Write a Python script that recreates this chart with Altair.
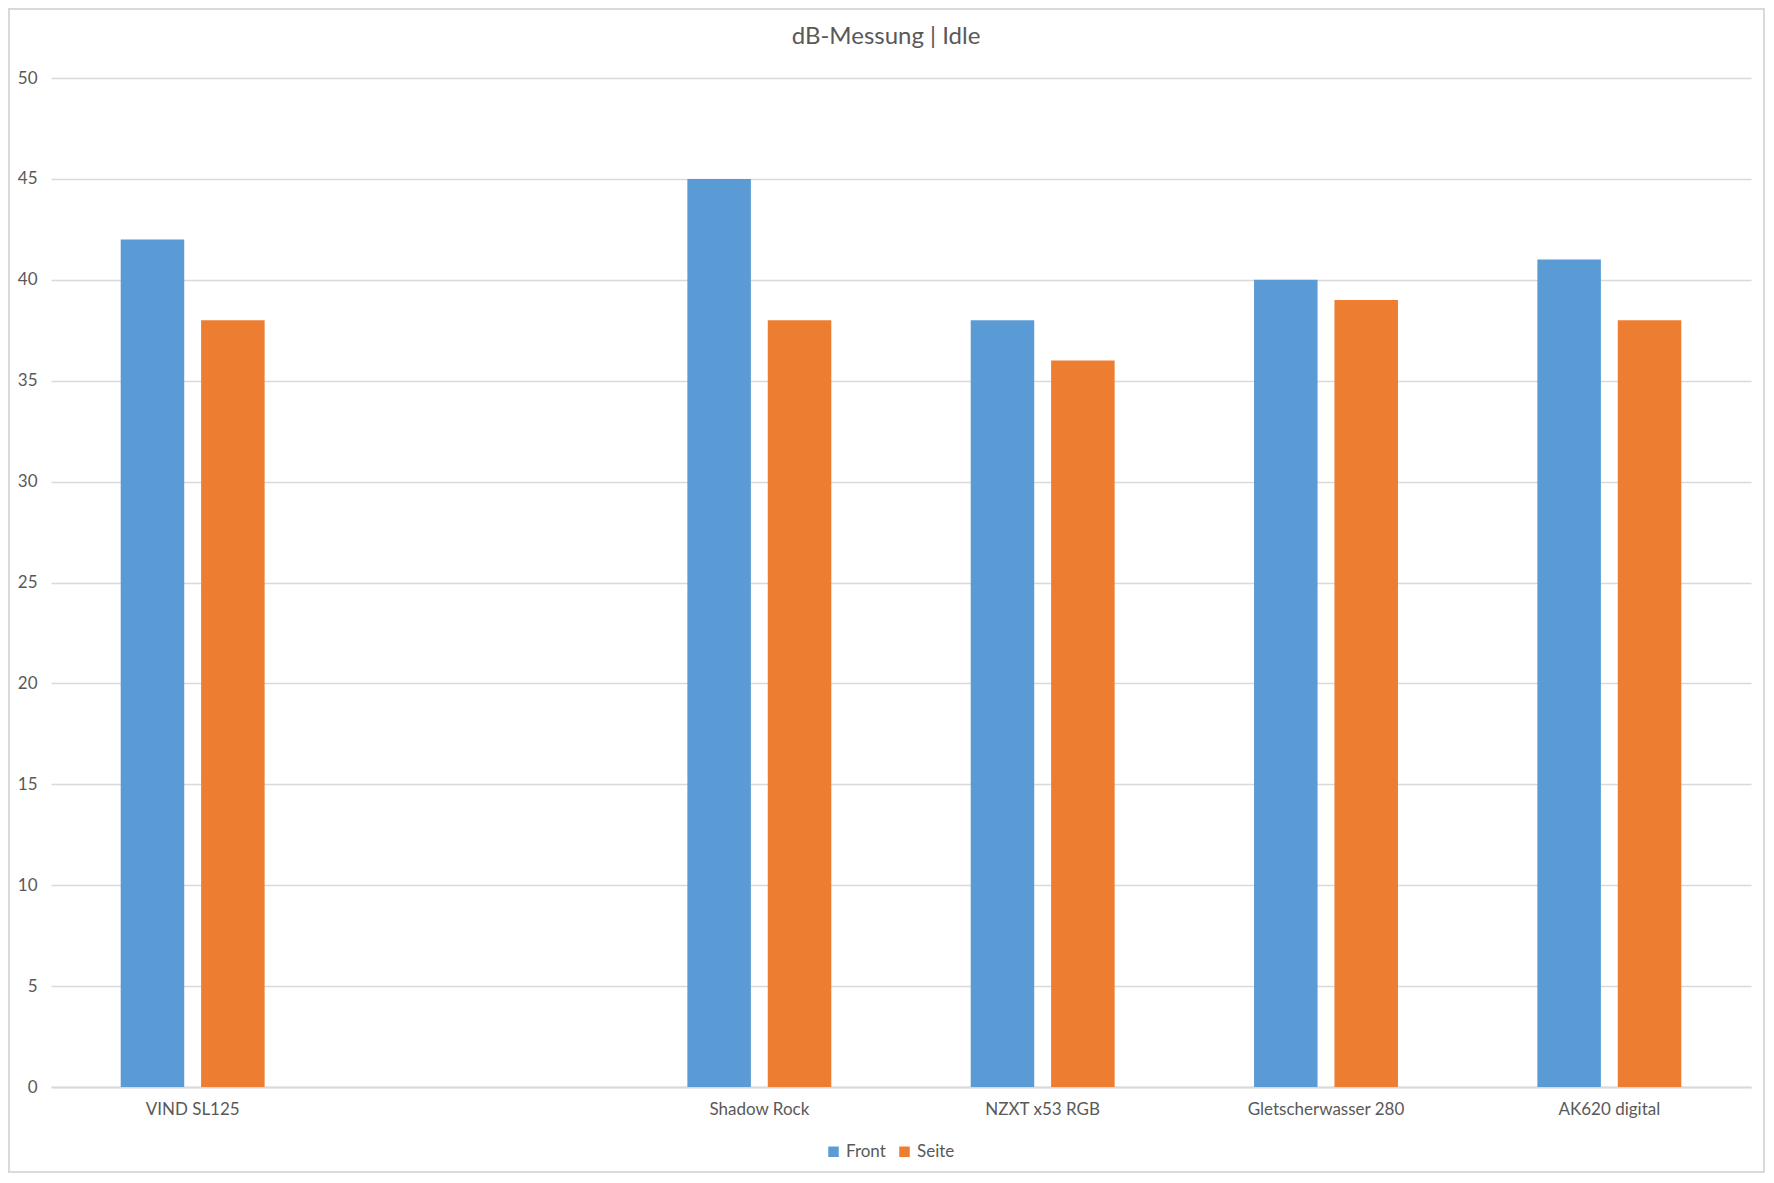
import altair as alt
import pandas as pd

categories = ["VIND SL125", " ", "Shadow Rock", "NZXT x53 RGB", "Gletscherwasser 280", "AK620 digital"]
front = {"VIND SL125": 42, "Shadow Rock": 45, "NZXT x53 RGB": 38, "Gletscherwasser 280": 40, "AK620 digital": 41}
seite = {"VIND SL125": 38, "Shadow Rock": 38, "NZXT x53 RGB": 36, "Gletscherwasser 280": 39, "AK620 digital": 38}
series = ["Front", "Seite"]
colors = ["#5B9BD5", "#ED7D31"]
y_ticks = list(range(0, 51, 5))

rows = []
for c in categories:
    if c in front:
        rows.append({"cat": c, "series": "Front", "value": front[c]})
        rows.append({"cat": c, "series": "Seite", "value": seite[c]})
df = pd.DataFrame(rows)

W, H = 1700, 1009
FONT = "Lato"
TXT = "#595959"
GRID = "#D9D9D9"

bars = alt.Chart(df).mark_bar().encode(
    x=alt.X("cat:N", sort=categories,
            scale=alt.Scale(domain=categories, paddingInner=0.492, paddingOuter=0.246),
            axis=alt.Axis(title=None, labelAngle=0, ticks=False, domainColor=GRID, domainWidth=2,
                          labelFont=FONT, labelFontSize=17, labelColor=TXT, labelPadding=14)),
    xOffset=alt.XOffset("series:N", sort=series,
                        scale=alt.Scale(paddingInner=0.21, paddingOuter=0)),
    y=alt.Y("value:Q", scale=alt.Scale(domain=[0, 50], nice=False),
            axis=alt.Axis(title=None, values=y_ticks, domain=False, ticks=False, gridColor=GRID,
                          gridWidth=1.5, labelFont=FONT, labelFontSize=17, labelColor=TXT,
                          labelPadding=14)),
    color=alt.Color("series:N", sort=series, scale=alt.Scale(domain=series, range=colors),
                    legend=alt.Legend(title=None, orient="none", legendX=774, legendY=1065,
                                      direction="horizontal",
                                      symbolType="square", symbolSize=110, symbolStrokeWidth=0,
                                      labelFont=FONT, labelFontSize=17, labelColor=TXT,
                                      columnPadding=10, labelOffset=4)),
)

frame = alt.Chart(pd.DataFrame({"a": [0]})).mark_rect(
    fill=None, stroke=GRID, strokeWidth=2
).encode(
    x=alt.value(-42), x2=alt.value(W + 13), y=alt.value(-69), y2=alt.value(H + 85)
)

chart = alt.layer(frame, bars).properties(
    width=W, height=H,
    title=alt.TitleParams("dB-Messung | Idle", font=FONT, fontSize=24, fontWeight="normal",
                          color=TXT, offset=0, dy=41, dx=-15, frame="group", anchor="middle"),
    autosize=alt.AutoSizeParams(type="none"),
    padding={"left": 43, "top": 70, "right": 14, "bottom": 86},
).configure_view(stroke=None)

chart.save("out.html", embed_options={"renderer": "svg", "actions": False})
